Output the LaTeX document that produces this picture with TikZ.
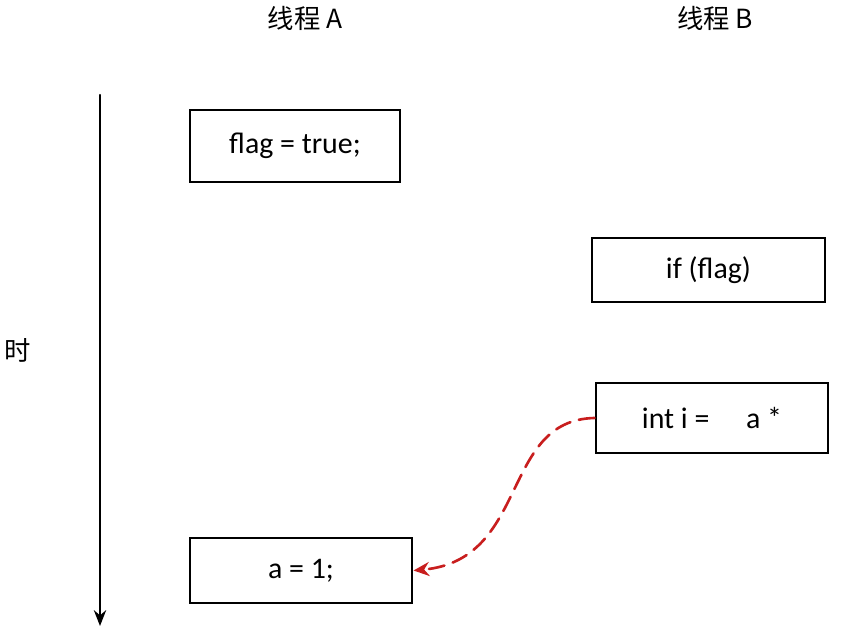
\documentclass[tikz,border=0pt]{standalone}
\usepackage{fontspec}
\setmainfont{Carlito}
\newfontfamily\cjk{Noto Sans CJK SC}
\usetikzlibrary{arrows.meta}
\definecolor{arrowred}{RGB}{200,30,30}

\begin{document}
\begin{tikzpicture}[x=0.02cm, y=-0.02cm, line cap=round,
	codebox/.style={draw, line width=1.7pt, inner sep=0pt, font=\fontsize{17}{19}\selectfont},
	heading/.style={font=\cjk\fontsize{15}{17}\selectfont}]

	\useasboundingbox (0,0) rectangle (843,628);

	\node[heading] (tA) at (305,18) {线程 A};
	\node[heading] (tB) at (715,18) {线程 B};
	\node[heading] (time) at (18,350) {时};

	\coordinate (top) at (100,95);
	\coordinate (bot) at (100,626);
	\draw[line width=1.2pt, -{Stealth[length=9pt,width=7pt]}] (top) -- (bot);

	\node[codebox, minimum width=210*0.02cm, minimum height=72*0.02cm] (flag) at (295,146) {flag = true;};
	\node[codebox, minimum width=233*0.02cm, minimum height=64*0.02cm] (iff) at (708.5,270) {if (flag)};
	\node[codebox, minimum width=232*0.02cm, minimum height=70*0.02cm] (inti) at (712,418) {int i = \quad a *};
	\node[codebox, minimum width=222*0.02cm, minimum height=65*0.02cm] (aone) at (301,570.5) {a = 1;};

	\draw[arrowred, line width=1.5pt, dash pattern=on 9pt off 5pt, -{Stealth[length=9pt,width=8pt]}]
		(inti.west) .. controls (500,420) and (530,560) .. (aone.east);

\end{tikzpicture}
\end{document}
